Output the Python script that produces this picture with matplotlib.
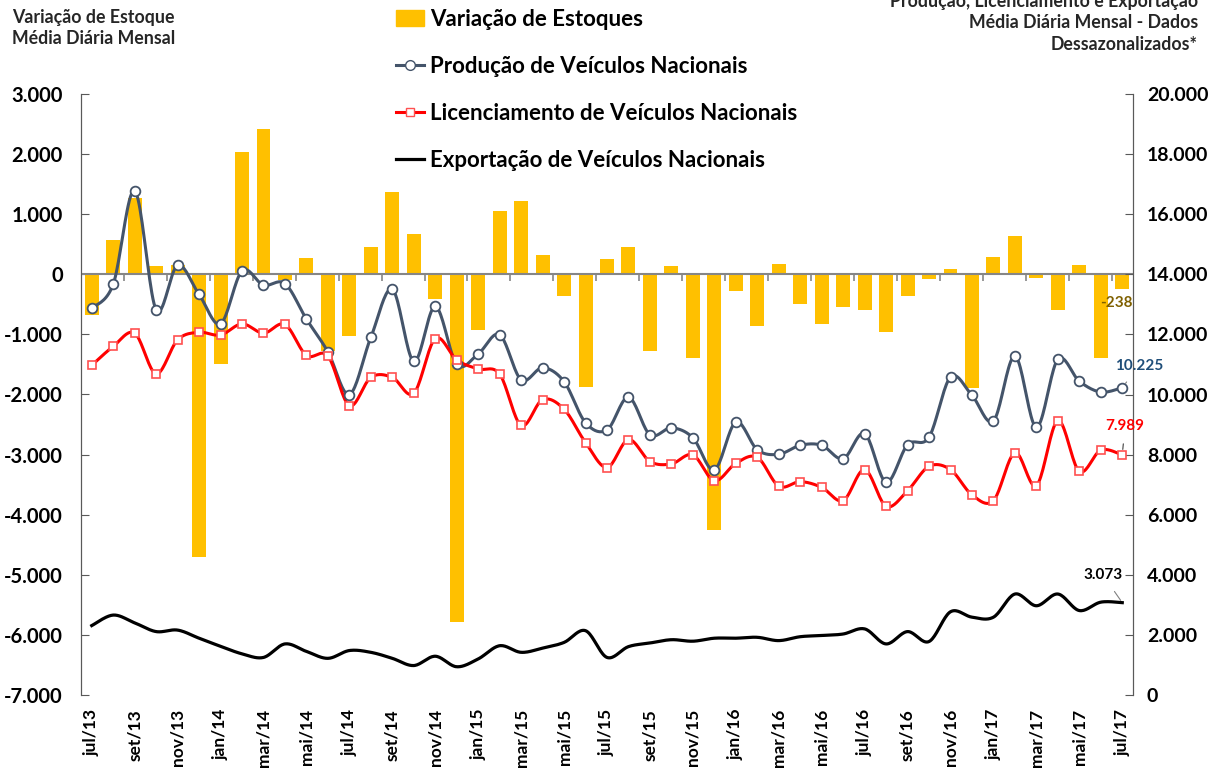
import numpy as np
import matplotlib
matplotlib.use("Agg")
import matplotlib.pyplot as plt
from matplotlib.patches import Patch
from matplotlib.lines import Line2D

plt.rcParams['font.family'] = ['Lato', 'DejaVu Sans']
plt.rcParams['font.weight'] = 'bold'

meses = ['jul', 'ago', 'set', 'out', 'nov', 'dez', 'jan', 'fev', 'mar', 'abr', 'mai', 'jun']
labels = []
for a in range(13, 18):
    for m in meses:
        labels.append(m + '/' + str(a if m in ['jul', 'ago', 'set', 'out', 'nov', 'dez'] else a + 1))
# jul/13 .. jul/17
rotulos = labels[:49]

estoque = [-670, 570, 1270, 130, 155, -4700, -1500, 2030, 2410, -90,
           276, -1270, -1030, 460, 1365, 663, -410, -5780, -920, 1050,
           1215, 320, -360, -1870, 255, 450, -1270, 145, -1400, -4260,
           -270, -860, 170, -490, -820, -540, -590, -960, -360, -70,
           90, -1890, 280, 645, -60, -590, 155, -1390, -238]

producao = [12870, 13670, 16780, 12820, 14300, 13330, 12350, 14110, 13640, 13690,
            12510, 11420, 10000, 11900, 13500, 11100, 12930, 11000, 11350, 11990,
            10490, 10890, 10430, 9060, 8820, 9910, 8660, 8890, 8560, 7490,
            9080, 8160, 8010, 8310, 8310, 7860, 8700, 7080, 8330, 8580,
            10580, 9970, 9120, 11280, 8910, 11170, 10440, 10080, 10225]

licenciamento = [10970, 11600, 12040, 10690, 11820, 12070, 11980, 12350, 12040, 12330,
                 11300, 11280, 9630, 10570, 10570, 10040, 11860, 11150, 10850, 10680,
                 8970, 9830, 9510, 8400, 7570, 8500, 7770, 7690, 7990, 7130,
                 7710, 7910, 6950, 7100, 6910, 6470, 7500, 6280, 6800, 7610,
                 7500, 6660, 6470, 8060, 6970, 9130, 7440, 8150, 7989]

exportacao = [2310, 2660, 2400, 2110, 2160, 1890, 1620, 1370, 1250, 1700,
              1450, 1220, 1480, 1420, 1220, 980, 1290, 940, 1200, 1640,
              1420, 1560, 1750, 2140, 1250, 1610, 1730, 1840, 1790, 1890,
              1890, 1920, 1810, 1940, 1980, 2030, 2200, 1700, 2110, 1780,
              2770, 2590, 2590, 3360, 2970, 3360, 2810, 3090, 3073]


def suave(x, y, n=20):
    # curva suavizada tipo excel (catmull-rom)
    x = np.asarray(x, float)
    y = np.asarray(y, float)
    px = np.concatenate([[x[0]], x, [x[-1]]])
    py = np.concatenate([[y[0]], y, [y[-1]]])
    t = np.linspace(0, 1, n, endpoint=False)
    xs, ys = [], []
    for i in range(len(x) - 1):
        for p, out in ((px, xs), (py, ys)):
            p0, p1, p2, p3 = p[i], p[i+1], p[i+2], p[i+3]
            c = 0.5 * ((2*p1) + (-p0 + p2)*t + (2*p0 - 5*p1 + 4*p2 - p3)*t**2
                       + (-p0 + 3*p1 - 3*p2 + p3)*t**3)
            out.extend(c)
    xs.append(x[-1])
    ys.append(y[-1])
    return np.array(xs), np.array(ys)


def fmt(v):
    s = f"{abs(int(v)):,}".replace(',', '.')
    return ('-' if v < 0 else '') + s


x = np.arange(len(estoque))

fig = plt.figure(figsize=(12.1, 7.68), dpi=100)
ax = fig.add_axes([81/1210, 1-695/768, 1052/1210, 601/768])
ax2 = ax.twinx()

cor_prod = '#44546A'
cor_lic = '#FF0000'

ax.bar(x, estoque, width=0.65, color='#FFC000', zorder=2)
ax.axhline(0, color='#868686', lw=1.5, zorder=3)
ax.vlines(np.arange(1.5, 48, 2), -110, 0, color='#868686', lw=1.2, zorder=3)

ax.set_xlim(-0.5, 48.5)
ax.set_ylim(-7000, 3000)
ax.set_yticks(np.arange(-7000, 3001, 1000))
ax.set_yticklabels([fmt(v) for v in np.arange(-7000, 3001, 1000)])
ax.set_xticks(x[::2])
ax.set_xticklabels(rotulos[::2], rotation=90)
ax.tick_params(axis='x', length=0, pad=10, labelsize=12.5)
ax.tick_params(axis='y', direction='in', length=6, labelsize=14.5, pad=13, color='#595959')

xs, ys = suave(x, producao)
ax2.plot(xs, ys, color=cor_prod, lw=2.2, zorder=4)
ax2.plot(x, producao, ls='none', marker='o', ms=7, mfc='white', mec=cor_prod, mew=1.3, zorder=5)
xs, ys = suave(x, licenciamento)
ax2.plot(xs, ys, color=cor_lic, lw=2.2, zorder=4)
ax2.plot(x, licenciamento, ls='none', marker='s', ms=6, mfc='white', mec='#FF5050', mew=1.2, zorder=5)
xs, ys = suave(x, exportacao)
ax2.plot(xs, ys, color='black', lw=2.3, zorder=4)

ax2.set_ylim(0, 20000)
ax2.set_yticks(np.arange(0, 20001, 2000))
ax2.set_yticklabels([fmt(v) for v in np.arange(0, 20001, 2000)])
ax2.tick_params(axis='y', direction='in', length=6, labelsize=14, pad=10, color='#595959')

for a in (ax, ax2):
    a.spines['top'].set_visible(False)
    a.spines['bottom'].set_visible(False)
    a.spines['left'].set_color('#595959')
    a.spines['right'].set_color('#595959')

# rotulos finais
ax.annotate(fmt(estoque[-1]), (x[-1], estoque[-1]), xytext=(-4, -5), textcoords='offset points',
            ha='center', va='top', fontsize=11, color='#7F6000', zorder=6)
ax2.annotate(fmt(producao[-1]), (x[-1], producao[-1]), xytext=(12, 16), textcoords='offset points',
             ha='center', va='center', fontsize=11, color='#1F4E79',
             arrowprops=dict(arrowstyle='-', color='#808080', lw=0.8, shrinkA=6, shrinkB=4))
ax2.annotate(fmt(licenciamento[-1]), (x[-1], licenciamento[-1]), xytext=(2, 21), textcoords='offset points',
             ha='center', va='center', fontsize=11, color='#FF0000',
             arrowprops=dict(arrowstyle='-', color='#404040', lw=0.8, shrinkA=6, shrinkB=4))
ax2.annotate(fmt(exportacao[-1]), (x[-1], exportacao[-1]), xytext=(-14, 20), textcoords='offset points',
             ha='center', va='center', fontsize=11, color='black',
             arrowprops=dict(arrowstyle='-', color='#808080', lw=0.8, shrinkA=6, shrinkB=2))

fig.text(12/1210, 1-28/768, 'Variação de Estoque\nMédia Diária Mensal', ha='left', va='center',
         fontsize=12.8, color='#262626', linespacing=1.25)
fig.text(1198/1210, 1-23/768, 'Produção, Licenciamento e Exportação\nMédia Diária Mensal - Dados\nDessazonalizados*',
         ha='right', va='center', fontsize=12.8, color='#262626', linespacing=1.32)

handles = [Patch(color='#FFC000'),
           Line2D([], [], color=cor_prod, lw=2.2, marker='o', ms=7, mfc='white', mec=cor_prod),
           Line2D([], [], color=cor_lic, lw=2.2, marker='s', ms=6, mfc='white', mec='#FF5050'),
           Line2D([], [], color='black', lw=2.3)]
nomes = ['Variação de Estoques', 'Produção de Veículos Nacionais',
         'Licenciamento de Veículos Nacionais', 'Exportação de Veículos Nacionais']
fig.legend(handles, nomes, loc='upper left', bbox_to_anchor=(380/1210, 1+7/768), frameon=False,
           fontsize=16, labelspacing=1.17, handlelength=1.3, handletextpad=0.25, borderpad=0.2)

fig.savefig('out.png', dpi=100)
